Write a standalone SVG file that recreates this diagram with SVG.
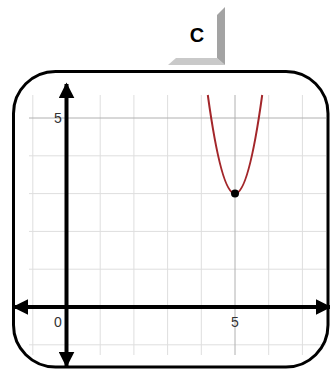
<svg xmlns="http://www.w3.org/2000/svg" width="330" height="370" viewBox="0 0 330 370">
  <style>
    .grid { stroke: #dedede; stroke-width: 1; fill: none; }
    .grid-mark { stroke: #b0b0b0; stroke-width: 1; fill: none; }
    .axis { stroke: #000; stroke-width: 4; fill: none; }
    .tick { font-family: "Liberation Sans", Arial, sans-serif; font-size: 14px; fill: #333; text-anchor: middle; }
    .title { font-family: "Liberation Sans", Arial, sans-serif; font-size: 20px; font-weight: bold; fill: #000; text-anchor: middle; }
  </style>
  <defs>
    <marker id="arrow" viewBox="0 0 10 10" refX="9" refY="5" markerWidth="4" markerHeight="4" orient="auto-start-reverse" markerUnits="strokeWidth">
      <path d="M0,0 L10,5 L0,10 Z" fill="#000"/>
    </marker>
  </defs>
  <rect width="330" height="370" fill="#fff"/>

  <g id="title">
    <polygon points="176,58 217,58 225,65 168,65" fill="#c9c9c9"/>
    <polygon points="217,15 225,7 225,65 217,58" fill="#a3a3a3"/>
    <text class="title" x="197" y="42">C</text>
  </g>

  <g id="grid">
    <path class="grid" d="M32.8,95V355 M100.2,95V355 M133.9,95V355 M167.6,95V355 M201.3,95V355 M268.7,95V355 M302.4,95V355"/>
    <path class="grid" d="M29,155.8H326 M29,193.6H326 M29,231.4H326 M29,269.2H326 M29,344.8H326"/>
    <path class="grid-mark" d="M235,95V355 M29,118H326"/>
  </g>

  <g id="frame">
    <rect x="13.5" y="71.5" width="314.5" height="295.5" rx="42" ry="42" fill="none" stroke="#000" stroke-width="3"/>
  </g>

  <g id="axes">
    <line class="axis" x1="66.5" y1="307" x2="66.5" y2="84" marker-end="url(#arrow)"/>
    <line class="axis" x1="66.5" y1="307" x2="66.5" y2="366" marker-end="url(#arrow)"/>
    <line class="axis" x1="66.5" y1="307" x2="14" y2="307" marker-end="url(#arrow)"/>
    <line class="axis" x1="66.5" y1="307" x2="330" y2="307" marker-end="url(#arrow)"/>
  </g>

  <g id="labels">
    <text class="tick" x="58" y="123">5</text>
    <text class="tick" x="58" y="327">0</text>
    <text class="tick" x="235" y="327">5</text>
  </g>

  <g id="curve">
    <path d="M207.8,95 Q235,292.2 262.2,95" fill="none" stroke="#a3262a" stroke-width="2"/>
    <circle cx="235" cy="193.6" r="4" fill="#000"/>
  </g>
</svg>
